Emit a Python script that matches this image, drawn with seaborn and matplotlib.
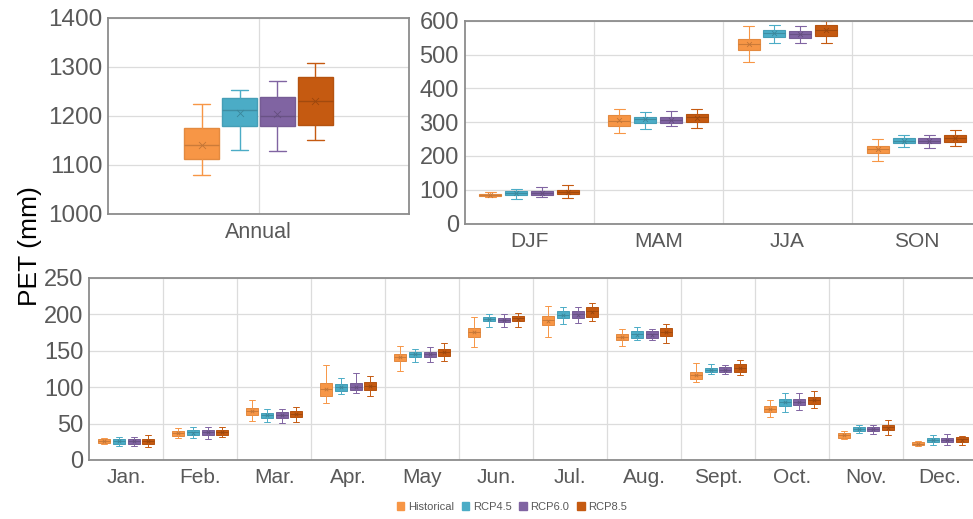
import numpy as np
import pandas as pd
import matplotlib
matplotlib.use("Agg")
import matplotlib.pyplot as plt
import seaborn as sns
from matplotlib.patches import Patch
from matplotlib.colors import to_rgb

# ---------------- data ----------------
scenarios = ["Historical", "RCP4.5", "RCP6.0", "RCP8.5"]
colors = ["#F79646", "#4BACC6", "#8064A2", "#C55A11"]

annual_cats = ["Annual"]
ann_min = [[1078], [1131], [1127], [1150]]
ann_q1 = [[1111], [1178], [1180], [1181]]
ann_med = [[1141], [1212], [1200], [1230]]
ann_q3 = [[1174], [1236], [1238], [1278]]
ann_max = [[1224], [1252], [1271], [1308]]
ann_mean = [[1141], [1205], [1204], [1230]]

season_cats = ["DJF", "MAM", "JJA", "SON"]
sea_min = [[78, 269, 479, 184], [72, 281, 534, 225], [77, 288, 534, 223], [75, 284, 534, 229]]
sea_q1 = [[81, 289, 514, 210], [84, 298, 552, 237], [84, 297, 550, 237], [86, 300, 556, 241]]
sea_med = [[85, 304, 531, 221], [90, 308, 563, 245], [91, 306, 562, 245], [93, 314, 572, 253]]
sea_q3 = [[88, 321, 546, 230], [96, 316, 572, 252], [97, 314, 570, 252], [99, 325, 586, 263]]
sea_max = [[92, 338, 584, 249], [101, 330, 586, 263], [109, 332, 584, 261], [115, 340, 598, 277]]
sea_mean = [[84, 305, 532, 220], [89, 308, 563, 245], [90, 307, 561, 245], [92, 313, 572, 253]]

month_cats = ["Jan.", "Feb.", "Mar.", "Apr.", "May", "Jun.", "Jul.", "Aug.", "Sept.", "Oct.", "Nov.", "Dec."]
mon_min = [
    [22, 30.2, 53, 77.7, 121.6, 155, 168.2, 155.8, 107, 59, 28.8, 18.7],
    [19, 30.2, 52, 90.5, 134, 182.8, 187, 164, 118.4, 66.3, 36.6, 21],
    [19, 28.3, 51, 91.4, 134, 181.9, 187.8, 164, 118, 68, 36.1, 20.6],
    [18.3, 31, 51.6, 87.7, 135.7, 181.9, 191, 160.9, 116, 71.3, 34.3, 20.6],
]
mon_q1 = [
    [22.9, 33.4, 62.2, 88, 135.7, 168.6, 184.6, 165, 111.5, 65.8, 30.2, 20.6],
    [22.4, 33.8, 58, 94.6, 141.7, 190, 194.2, 167.3, 121, 74.5, 40.2, 24.2],
    [22.4, 33.8, 58, 95.5, 141.7, 188.8, 194.7, 166.8, 120.7, 75, 39.8, 24.7],
    [22.4, 34.7, 59.4, 96, 143, 190.6, 196.5, 170, 121, 77.2, 40.7, 25],
]
mon_med = [
    [25.6, 37, 67, 97.8, 141, 175, 192, 169, 116, 69.5, 33.8, 22.4],
    [25.6, 38, 62, 100.5, 145, 193, 199.3, 172.3, 123.9, 79, 42.5, 27.4],
    [25.6, 38.4, 62, 100.5, 145, 192, 199.7, 172.3, 123.9, 79.5, 42, 27.4],
    [26.5, 38.4, 63.5, 102, 148, 194.2, 204, 175.5, 126.6, 82.3, 44.8, 28.3],
]
mon_q3 = [
    [28.3, 40.2, 71.8, 105, 146, 180.5, 197.4, 172.3, 120.2, 73.6, 37.5, 24.7],
    [28.3, 40.7, 65, 103.7, 148.5, 195.6, 203.8, 176.4, 126.6, 83, 44.8, 29.7],
    [28.8, 41, 65.8, 105, 148.5, 194.7, 204.8, 176.4, 127, 83.6, 44.8, 29.7],
    [29.3, 41, 67, 107, 151.7, 197.4, 209.8, 181, 131, 86.8, 48.4, 31],
]
mon_max = [
    [30, 43.9, 82, 130, 157, 196, 210.7, 179.6, 132.5, 82.7, 39.8, 25.6],
    [31, 44.8, 70.4, 112, 152.6, 199.7, 209.3, 182.4, 131.6, 91.4, 47.5, 34.7],
    [32, 44.8, 70.4, 119, 155, 199.7, 209.3, 179, 130, 91.9, 48.4, 35.6],
    [34.7, 45.7, 73, 115, 160, 202, 214.8, 186, 136.7, 94, 54.8, 33.4],
]
mon_mean = [
    [25.5, 37, 67, 97, 141, 175, 191, 169, 116, 69.5, 34, 22.5],
    [25.5, 37.5, 62, 100, 145, 193, 199, 172, 124, 79, 42.5, 27],
    [25.5, 38, 62, 100.5, 145, 192, 199.5, 172, 124, 79.5, 42, 27],
    [26, 38, 63.5, 102, 148, 194, 203.5, 175.5, 126.5, 82, 44.5, 28],
]

# ---------------- style ----------------
sns.set_theme(style="white")
plt.rcParams["font.family"] = ["Liberation Sans", "DejaVu Sans"]
TICK_COLOR = "#595959"
GRID_COLOR = "#DCDCDC"
SPINE_COLOR = "#8C8C8C"


def darken(c, f=0.75):
    r, g, b = to_rgb(c)
    return (r * f, g * f, b * f)


def long_frame(cats, mins, q1s, meds, q3s, maxs):
    rows = []
    for si, s in enumerate(scenarios):
        for ci, c in enumerate(cats):
            for v in (mins[si][ci], q1s[si][ci], meds[si][ci], q3s[si][ci], maxs[si][ci]):
                rows.append((c, s, v))
    return pd.DataFrame(rows, columns=["cat", "scen", "val"])


def mean_frame(cats, means):
    rows = []
    for si, s in enumerate(scenarios):
        for ci, c in enumerate(cats):
            rows.append((c, s, means[si][ci]))
    return pd.DataFrame(rows, columns=["cat", "scen", "val"])


def draw(ax, cats, mins, q1s, meds, q3s, maxs, means, gap, lw, msize):
    df = long_frame(cats, mins, q1s, meds, q3s, maxs)
    pal = dict(zip(scenarios, colors))
    for s, col in zip(scenarios, colors):
        sub = df[df["scen"] == s]
        sns.boxplot(data=sub, x="cat", y="val", hue="scen", order=cats,
                    hue_order=scenarios, palette=pal, dodge=True, whis=np.inf,
                    width=0.8, gap=gap, saturation=1, linecolor=col, linewidth=lw,
                    showfliers=False, legend=False, ax=ax,
                    medianprops=dict(color=darken(col, 0.82), linewidth=lw),
                    boxprops=dict(edgecolor=darken(col, 0.92)))
    mdf = mean_frame(cats, means)
    dpal = {s: darken(c, 0.78) for s, c in zip(scenarios, colors)}
    sns.stripplot(data=mdf, x="cat", y="val", hue="scen", order=cats,
                  hue_order=scenarios, palette=dpal, dodge=True, jitter=False,
                  marker="x", size=msize, linewidth=0.6, legend=False, ax=ax,
                  zorder=6)


def style(ax, ylim, step, ysize, xsize, boundaries=True, right_spine=False):
    ax.set_ylim(*ylim)
    ax.set_yticks(np.arange(ylim[0], ylim[1] + 1, step))
    ax.set_xlabel("")
    ax.set_ylabel("")
    ax.set_axisbelow(True)
    ax.yaxis.grid(True, color=GRID_COLOR, linewidth=0.9)
    ax.tick_params(which="both", length=0, colors=TICK_COLOR)
    ax.tick_params(axis="y", labelsize=ysize, pad=4)
    ax.tick_params(axis="x", labelsize=xsize, pad=6)
    if boundaries:
        n = len(ax.get_xticks())
        ax.set_xticks(np.arange(n - 1) + 0.5, minor=True)
        ax.grid(axis="x", which="minor", color=GRID_COLOR, linewidth=0.9)
    else:
        ax.grid(axis="x", which="major", color=GRID_COLOR, linewidth=0.9)
    for side in ["left", "bottom", "top"]:
        ax.spines[side].set_visible(True)
        ax.spines[side].set_color(SPINE_COLOR)
        ax.spines[side].set_linewidth(1.3)
    ax.spines["right"].set_visible(right_spine)
    ax.spines["right"].set_color(SPINE_COLOR)
    ax.spines["right"].set_linewidth(1.3)


W, H = 973, 519
fig = plt.figure(figsize=(W / 100, H / 100), dpi=100)


def box(l, t, r, b):
    return [l / W, 1 - b / H, (r - l) / W, (b - t) / H]


ax_ann = fig.add_axes(box(107.7, 17.7, 409.3, 213.7))
ax_sea = fig.add_axes(box(464.5, 20.7, 981, 223.5))
ax_mon = fig.add_axes(box(89.3, 277.7, 977, 460))

draw(ax_ann, annual_cats, ann_min, ann_q1, ann_med, ann_q3, ann_max, ann_mean, 0.08, 1.0, 5)
draw(ax_sea, season_cats, sea_min, sea_q1, sea_med, sea_q3, sea_max, sea_mean, 0.15, 0.8, 3.5)
draw(ax_mon, month_cats, mon_min, mon_q1, mon_med, mon_q3, mon_max, mon_mean, 0.19, 0.7, 2.5)

style(ax_ann, (1000, 1400), 100, 17.5, 15.5, boundaries=False, right_spine=True)
ax_ann.set_xlim(-0.794, 0.794)
style(ax_sea, (0, 600), 100, 17, 15)
ax_sea.set_xlim(-0.5, 3.5)
style(ax_mon, (0, 250), 50, 17, 15)
ax_mon.set_xlim(-0.5, 11.5)

fig.text(0.031, 0.525, "PET (mm)", rotation=90, fontsize=19, color="black",
         ha="center", va="center")

handles = [Patch(facecolor=c, edgecolor=c, label=s) for s, c in zip(scenarios, colors)]
fig.legend(handles=handles, loc="center", bbox_to_anchor=(0.526, 0.023), ncol=4,
           frameon=False, fontsize=8, labelcolor=TICK_COLOR, handlelength=0.7,
           handleheight=0.7, handletextpad=0.3, columnspacing=0.7)

fig.savefig("out.png", dpi=100)
